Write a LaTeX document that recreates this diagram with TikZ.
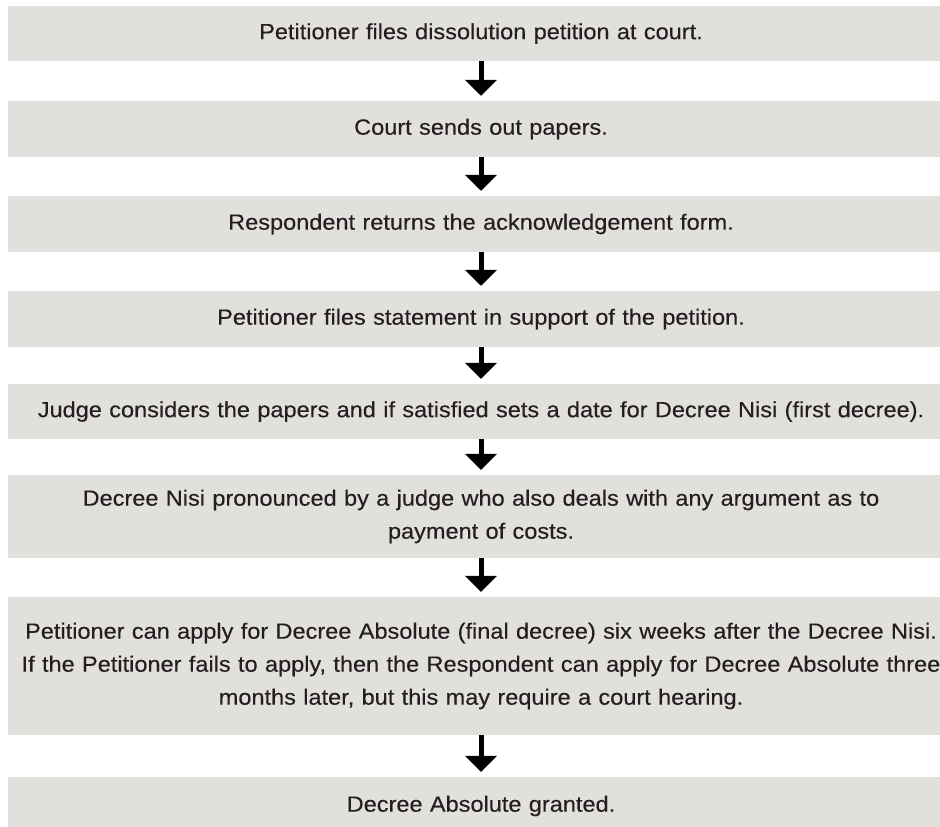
\documentclass[tikz,border=0pt]{standalone}
\usepackage{fontspec}
\setmainfont{Liberation Sans}[FakeStretch=1.07,FakeBold=0.3]
\usetikzlibrary{arrows.meta}
\definecolor{boxgrey}{HTML}{E2E0DC}
\definecolor{ink}{HTML}{231F20}
\begin{document}
\begin{tikzpicture}[x=1pt,y=-1pt, font=\fontsize{22}{33}\selectfont, line join=round,
	stepbox/.style={fill=boxgrey, text=ink, minimum width=946pt, text width=946pt, align=center, inner sep=0pt},
	flow/.style={-{Triangle[width=31pt,length=16pt]}, line width=5pt, shorten >=5pt}]
	\useasboundingbox (0,0) rectangle (940,827);
	\clip (0,0) rectangle (940,827);
	\node[stepbox, minimum height=55pt] (s1) at (481,33.5) {Petitioner files dissolution petition at court.};
	\node[stepbox, minimum height=56pt] (s2) at (481,129) {Court sends out papers.};
	\node[stepbox, minimum height=56pt] (s3) at (481,224) {Respondent returns the acknowledgement form.};
	\node[stepbox, minimum height=56pt] (s4) at (481,319) {Petitioner files statement in support of the petition.};
	\node[stepbox, minimum height=55pt] (s5) at (481,411.5) {Judge considers the papers and if satisfied sets a date for Decree Nisi (first decree).};
	\node[stepbox, minimum height=83pt] (s6) at (481,516.5) {Decree Nisi pronounced by a judge who also deals with any argument as to\\ payment of costs.};
	\node[stepbox, minimum height=138pt] (s7) at (481,666) {Petitioner can apply for Decree Absolute (final decree) six weeks after the Decree Nisi.\\ If the Petitioner fails to apply, then the Respondent can apply for Decree Absolute three\\ months later, but this may require a court hearing.};
	\node[stepbox, minimum height=58pt] (s8) at (481,806) {Decree Absolute granted.};
	\foreach \a/\b in {s1/s2,s2/s3,s3/s4,s4/s5,s5/s6,s6/s7,s7/s8}
	{\draw[flow] (\a) -- (\b);}
\end{tikzpicture}
\end{document}
